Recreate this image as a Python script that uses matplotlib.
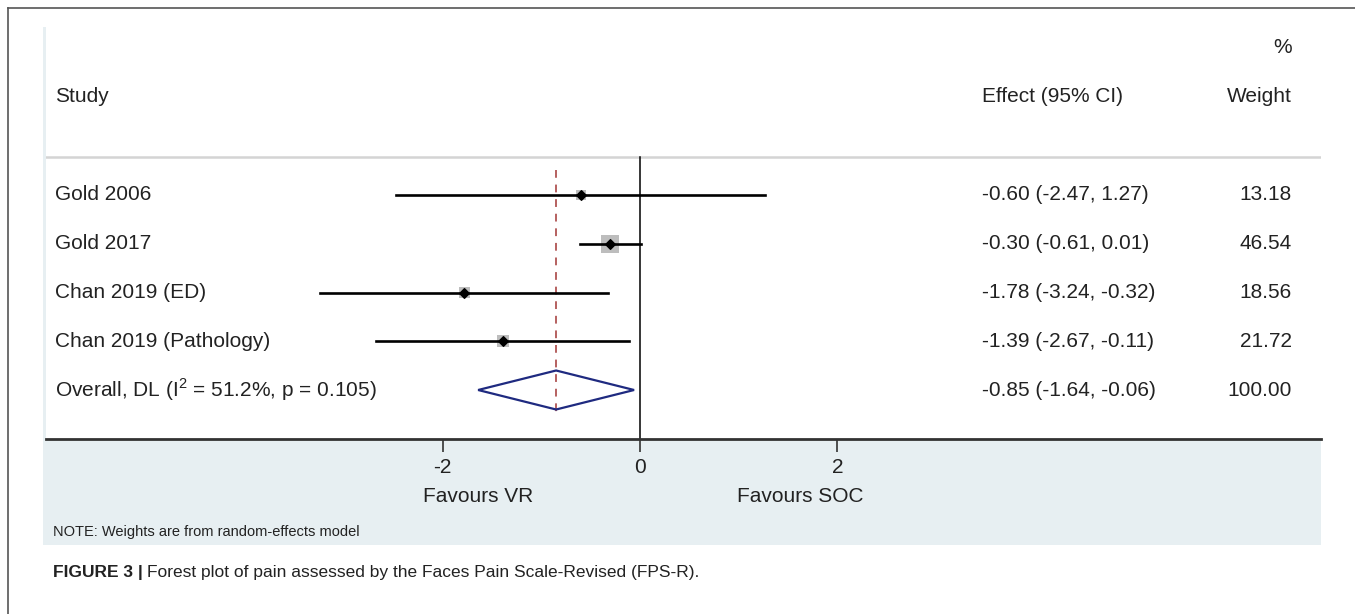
import matplotlib
matplotlib.use("Agg")
import matplotlib.pyplot as plt
from matplotlib.patches import Rectangle, Polygon
from matplotlib.transforms import blended_transform_factory

plt.rcParams["font.family"] = ["Liberation Sans", "DejaVu Sans"]
plt.rcParams["mathtext.fontset"] = "custom"
plt.rcParams["mathtext.rm"] = "Liberation Sans"

# study-level estimates (mean difference, 95% CI) and random-effects weights
studies = ["Gold 2006", "Gold 2017", "Chan 2019 (ED)", "Chan 2019 (Pathology)"]
effects = [-0.60, -0.30, -1.78, -1.39]
ci_low = [-2.47, -0.61, -3.24, -2.67]
ci_high = [1.27, 0.01, -0.32, -0.11]
weights = [13.18, 46.54, 18.56, 21.72]

overall_label = r"Overall, DL (I$^{\mathrm{2}}$ = 51.2%, p = 0.105)"
overall_effect = -0.85
overall_low = -1.64
overall_high = -0.06

xticks = [-2, 0, 2]

W, H = 1355, 614
fig = plt.figure(figsize=(W / 100, H / 100), dpi=100)
fig.patch.set_facecolor("white")


def fx(px):
    return px / W


def fy(py):
    return 1 - py / H


# page frame and the shaded graph region
fig.add_artist(plt.Line2D([fx(8), 1], [fy(8), fy(8)], color="#555555", lw=1.2))
fig.add_artist(plt.Line2D([fx(8), fx(8)], [fy(8), 0], color="#555555", lw=1.2))
fig.add_artist(Rectangle((fx(43), fy(545)), fx(1321) - fx(43), fy(27) - fy(545),
                         facecolor="#e7eff2", edgecolor="none", zorder=0))

ax = fig.add_axes([fx(46), fy(439), fx(1321) - fx(46), fy(27) - fy(439)])
ax.set_facecolor("white")
ax.set_xlim(-594 / 98.7, 681 / 98.7)
ax.set_ylim((439 - 195) / 48.75, (27 - 195) / 48.75)

for s in ["top", "right", "left"]:
    ax.spines[s].set_visible(False)
ax.spines["bottom"].set_color("#333333")
ax.spines["bottom"].set_linewidth(2.0)
ax.set_yticks([])
ax.set_xticks(xticks)
ax.set_xticklabels([str(t) for t in xticks], fontsize=15)
ax.tick_params(axis="x", direction="out", length=9.5, width=1.2, color="#333333",
               pad=4, labelcolor="#222222")

rows = list(range(len(studies)))
overall_row = len(studies)

# header rule and line of no effect
ax.axhline(-0.78, color="#d4d4d4", lw=1.8)
ax.plot([0, 0], [-0.78, (439 - 195) / 48.75], color="black", lw=1.1, zorder=2)
ax.plot([overall_effect, overall_effect], [-0.51, 4.47], color="#b5605f",
        lw=1.4, dashes=(4, 3.5), zorder=2)

# confidence intervals, weight boxes and point estimates
for r, lo, hi in zip(rows, ci_low, ci_high):
    ax.plot([lo, hi], [r, r], color="black", lw=1.9, zorder=3)
ax.scatter(effects, rows, s=[3.6 * w for w in weights], marker="s",
           color="#bdbdbd", edgecolors="none", zorder=2.5)
ax.scatter(effects, rows, s=24, marker="D", color="black", zorder=4)

dh = 0.4
diamond = Polygon([(overall_low, overall_row), (overall_effect, overall_row - dh),
                   (overall_high, overall_row), (overall_effect, overall_row + dh)],
                  closed=True, fill=False, edgecolor="#1f2a80", lw=1.6, zorder=3)
ax.add_patch(diamond)

# table columns
tr = blended_transform_factory(ax.transAxes, ax.transData)
col_study = (55 - 46) / 1275
col_effect = (982 - 46) / 1275
col_weight = (1292 - 46) / 1275
txt = dict(fontsize=15, color="#222222", va="center", transform=tr)

ax.text(col_study, -2.02, "Study", ha="left", **txt)
ax.text(col_effect, -2.02, "Effect (95% CI)", ha="left", **txt)
ax.text(col_weight, -2.02, "Weight", ha="right", **txt)
ax.text(col_weight, -3.02, "%", ha="right", **txt)

labels = studies + [overall_label]
all_eff = effects + [overall_effect]
all_lo = ci_low + [overall_low]
all_hi = ci_high + [overall_high]
all_w = weights + [100.0]
for r, (lab, e, lo, hi, w) in enumerate(zip(labels, all_eff, all_lo, all_hi, all_w)):
    ax.text(col_study, r, lab, ha="left", **txt)
    ax.text(col_effect, r, f"{e:.2f} ({lo:.2f}, {hi:.2f})", ha="left", **txt)
    ax.text(col_weight, r, f"{w:.2f}", ha="right", **txt)

# favours labels under the axis
ax.text(-1.64, -0.14, "Favours VR", ha="center", va="center", fontsize=15,
        color="#222222", transform=blended_transform_factory(ax.transData, ax.transAxes))
ax.text(1.62, -0.14, "Favours SOC", ha="center", va="center", fontsize=15,
        color="#222222", transform=blended_transform_factory(ax.transData, ax.transAxes))

fig.text(fx(53), fy(532), "NOTE: Weights are from random-effects model",
         fontsize=10.5, color="#222222", va="center")

# caption: bold figure number followed by plain text
cap_y = fy(577)
bold = fig.text(fx(53), cap_y, "FIGURE 3 |", fontsize=12.5, fontweight="bold",
                color="#222222", va="baseline")
fig.canvas.draw()
bb = bold.get_window_extent()
fig.text(bb.x1 / W + 0.003, cap_y,
         "Forest plot of pain assessed by the Faces Pain Scale-Revised (FPS-R).",
         fontsize=12.5, color="#222222", va="baseline")

fig.savefig("out.png", dpi=100)
